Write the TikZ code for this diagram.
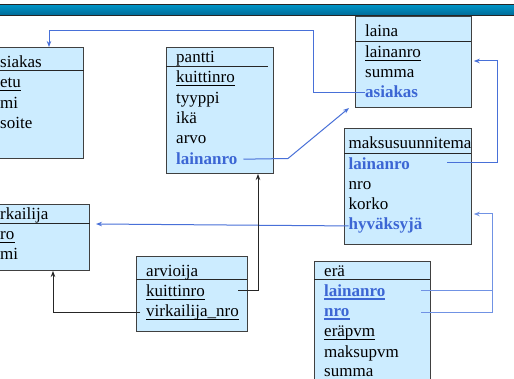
\documentclass[tikz,border=0pt]{standalone}
\usepackage{fontspec}
\setmainfont{Liberation Serif}
\usetikzlibrary{arrows.meta}
\definecolor{boxfill}{RGB}{204,236,255}
\definecolor{boxdraw}{RGB}{64,64,64}
\definecolor{keyblue}{RGB}{60,102,212}
\definecolor{lnblue}{RGB}{72,112,216}
\definecolor{lnlight}{RGB}{112,146,228}
\definecolor{bartop}{RGB}{0,150,200}
\definecolor{barbot}{RGB}{0,105,150}
\tikzset{
  x=1pt, y=-1pt,
  tbl/.style={fill=boxfill, draw=boxdraw, line width=1.3pt},
  hdr/.style={draw=black!85, line width=1pt},
  txt/.style={font=\fontsize{17}{20}\selectfont, inner sep=0pt, anchor=base west, text=black},
  fk/.style={txt, text=keyblue, font=\fontsize{17}{20}\selectfont\bfseries},
  ul/.style={append after command={([yshift=-2.6pt]\tikzlastnode.base west) edge[draw=black, line width=1.1pt] ([yshift=-2.6pt]\tikzlastnode.base east)}},
  ulb/.style={append after command={([yshift=-2.8pt]\tikzlastnode.base west) edge[draw=keyblue, line width=1.8pt] ([yshift=-2.8pt]\tikzlastnode.base east)}},
  bref/.style={draw=lnblue, line width=1pt, -{Stealth[length=6pt,width=4.5pt]}},
  lref/.style={draw=lnlight, line width=1pt, -{Stealth[length=6pt,width=4.5pt]}},
  kref/.style={draw=black!85, line width=0.9pt, -{Stealth[length=6pt,width=4.5pt]}},
}
\begin{document}
\begin{tikzpicture}
\useasboundingbox (0,0) rectangle (514,379);
\clip (0,0) rectangle (514,379);
\fill[white] (0,0) rectangle (514,379);
% top bar
\shade[top color=bartop, bottom color=barbot] (0,4.5) rectangle (514,15.5);
\draw[black!85, line width=1pt] (0,4.5) -- (514,4.5);
\draw[black!85, line width=1pt] (0,15.5) -- (514,15.5);

% asiakas
\node[tbl, anchor=north west, minimum width=88pt, minimum height=111pt, inner sep=0pt] (asB) at (-5,47) {};
\draw[hdr] (-5,71) -- (asB.east |- 0,71);
\node[txt] (as0) at (0,68) {siakas};
\node[txt, ul] (as1) at (0,88) {etu};
\node[txt] (as2) at (0,109) {mi};
\node[txt] (as3) at (0,129) {soite};

% virkailija
\node[tbl, anchor=north west, minimum width=94pt, minimum height=66pt, inner sep=0pt] (vkB) at (-5,204) {};
\draw[hdr] (-5,224) -- (vkB.east |- 0,224);
\node[txt] (vk0) at (0,220) {rkailija};
\node[txt, ul] (vk1) at (0,240) {ro};
\node[txt] (vk2) at (0,260) {mi};

% pantti
\node[tbl, anchor=north west, minimum width=106.5pt, minimum height=126pt, inner sep=0pt] (pB) at (166,47) {};
\draw[hdr] (166,66.5) -- (268,66.5);
\node[txt] (p0) at (176,63) {pantti};
\node[txt, ul] (p1) at (176,83) {kuittinro};
\node[txt] (p2) at (176,104) {tyyppi};
\node[txt] (p3) at (176,124) {ikä};
\node[txt] (p4) at (176,144) {arvo};
\node[fk] (p5) at (176,165) {lainanro};

% laina
\node[tbl, anchor=north west, minimum width=116pt, minimum height=91pt, inner sep=0pt] (laB) at (355,16) {};
\draw[hdr] (355,41.7) -- (471,41.7);
\node[txt] (la0) at (365,37) {laina};
\node[txt, ul] (la1) at (365,58) {lainanro};
\node[txt] (la2) at (365,78) {summa};
\node[fk] (la3) at (365,98) {asiakas};

% maksusuunnitema
\node[tbl, anchor=north west, minimum width=127pt, minimum height=116pt, inner sep=0pt] (mB) at (344,128) {};
\draw[hdr] (344,153.3) -- (471,153.3);
\node[txt] (m0) at (348.5,149) {maksusuunnitema};
\node[fk] (m1) at (348.5,170) {lainanro};
\node[txt] (m2) at (348.5,190) {nro};
\node[txt] (m3) at (348.5,210) {korko};
\node[fk] (m4) at (348.5,230) {hyväksyjä};

% arvioija
\node[tbl, anchor=north west, minimum width=111pt, minimum height=75pt, inner sep=0pt] (arB) at (136,256) {};
\draw[hdr] (136,280) -- (247,280);
\node[txt] (ar0) at (146,276.5) {arvioija};
\node[txt, ul] (ar1) at (146,296.5) {kuittinro};
\node[txt, ul] (ar2) at (146,316.5) {virkailija\_nro};

% erä
\node[tbl, anchor=north west, minimum width=116pt, minimum height=130pt, inner sep=0pt] (eB) at (314,261) {};
\draw[hdr] (314,280) -- (430,280);
\node[txt] (er0) at (324,276.5) {erä};
\node[fk, ulb] (er1) at (324,296.5) {lainanro};
\node[fk, ulb] (er2) at (324,316.5) {nro};
\node[txt, ul] (er3) at (324,337) {eräpvm};
\node[txt] (er4) at (324,357) {maksupvm};
\node[txt] (er5) at (324,376.5) {summa};

% connectors
\coordinate (a1) at (313,31);
\coordinate (a2) at (49,31);
\draw[bref] (la3.west) -| (a1) -- (a2) -- (a2 |- asB.north);

\coordinate (b1) at (288,158.5);
\coordinate (b2) at (349,108);
\draw[bref] ([xshift=6pt]p5.east) -- (b1) -- (b2);

\coordinate (c0) at (447,163);
\coordinate (c1) at (497,61);
\draw[bref, shorten >=1.5pt] (c0) -| (c1) -- (laB.east |- c1);

\coordinate (d1) at (96,224);
\draw[bref] (m4.west) -- (d1);

\coordinate (e0) at (238,0);
\coordinate (e1) at (258,174);
\draw[kref] (ar1.west -| e0) -| (e1);

\coordinate (f1) at (53,271);
\draw[kref] ([xshift=-6pt]ar2.west) -| (f1);

\coordinate (g0) at (421,0);
\coordinate (g1) at (492,0);
\coordinate (g2) at (492,214);
\draw[draw=lnlight, line width=1pt] (er1.west -| g0) -- (er1.west -| g1);
\draw[lref, shorten >=1.5pt] (er2.west -| g0) -| (g2) -- (mB.east |- g2);
\end{tikzpicture}
\end{document}
